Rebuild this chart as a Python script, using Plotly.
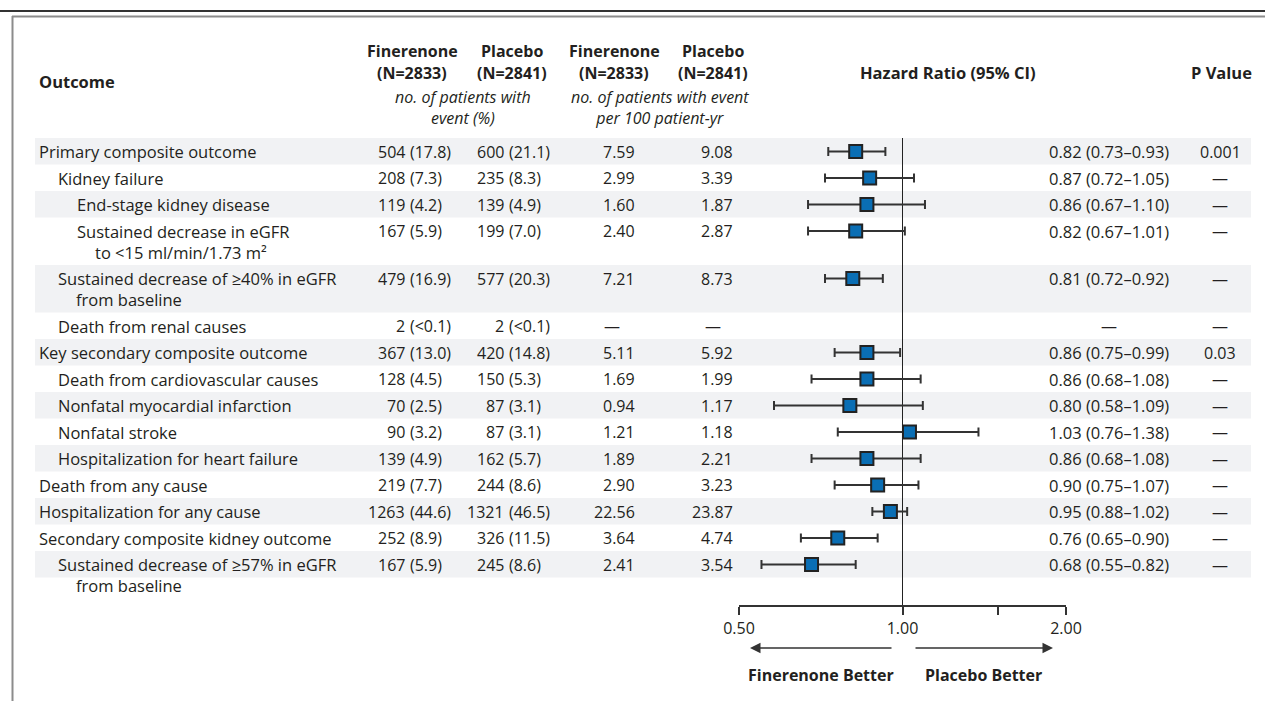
import math
import plotly.graph_objects as go

# ---------------- data ----------------
outcomes = [
    "Primary composite outcome",
    "Kidney failure",
    "End-stage kidney disease",
    "Sustained decrease in eGFR\nto &lt;15 ml/min/1.73 m²",
    "Sustained decrease of ≥40% in eGFR\nfrom baseline",
    "Death from renal causes",
    "Key secondary composite outcome",
    "Death from cardiovascular causes",
    "Nonfatal myocardial infarction",
    "Nonfatal stroke",
    "Hospitalization for heart failure",
    "Death from any cause",
    "Hospitalization for any cause",
    "Secondary composite kidney outcome",
    "Sustained decrease of ≥57% in eGFR\nfrom baseline",
]
levels = [0, 1, 2, 2, 1, 1, 0, 1, 1, 1, 1, 0, 0, 0, 1]
fin_n = [504, 208, 119, 167, 479, 2, 367, 128, 70, 90, 139, 219, 1263, 252, 167]
fin_pct = ["17.8", "7.3", "4.2", "5.9", "16.9", "&lt;0.1", "13.0", "4.5", "2.5", "3.2",
           "4.9", "7.7", "44.6", "8.9", "5.9"]
pla_n = [600, 235, 139, 199, 577, 2, 420, 150, 87, 87, 162, 244, 1321, 326, 245]
pla_pct = ["21.1", "8.3", "4.9", "7.0", "20.3", "&lt;0.1", "14.8", "5.3", "3.1", "3.1",
           "5.7", "8.6", "46.5", "11.5", "8.6"]
fin_rate = ["7.59", "2.99", "1.60", "2.40", "7.21", None, "5.11", "1.69", "0.94", "1.21",
            "1.89", "2.90", "22.56", "3.64", "2.41"]
pla_rate = ["9.08", "3.39", "1.87", "2.87", "8.73", None, "5.92", "1.99", "1.17", "1.18",
            "2.21", "3.23", "23.87", "4.74", "3.54"]
hr = [0.82, 0.87, 0.86, 0.82, 0.81, None, 0.86, 0.86, 0.80, 1.03, 0.86, 0.90, 0.95, 0.76, 0.68]
hr_lo = [0.73, 0.72, 0.67, 0.67, 0.72, None, 0.75, 0.68, 0.58, 0.76, 0.68, 0.75, 0.88, 0.65, 0.55]
hr_hi = [0.93, 1.05, 1.10, 1.01, 0.92, None, 0.99, 1.08, 1.09, 1.38, 1.08, 1.07, 1.02, 0.90, 0.82]
p_values = ["0.001", None, None, None, None, None, "0.03", None, None, None, None, None,
            None, None, None]
tick_vals = [0.5, 1.0, 1.5, 2.0]
tick_text = ["0.50", "1.00", "", "2.00"]

# ---------------- layout constants ----------------
W, H = 1265, 701
FONT = "Open Sans"
TXT = "#231f20"
SHADE = "#f1f2f4"
ROW_TOP = 138
LINE1 = 26.5
LINE_EXTRA = 21
band_lines = [1, 1, 1, 2, 2, 1, 1, 1, 1, 1, 1, 1, 1, 1, 1]
AXIS_Y = 606
X_LABEL = 39
INDENT = 19
CONT_INDENT = 18
X_FN_R, X_FN_P = 405, 410
X_PN_R, X_PN_P = 504, 509
X_FR_R, X_FR_C = 635, 612
X_PR_R, X_PR_C = 733, 713
X_HR = 1109
X_P = 1220
FS = 16
FS_LABEL = 16.5
FS_HR = 16.5

tops, heights = [], []
yy = ROW_TOP
for n in band_lines:
    h = LINE1 + LINE_EXTRA * (n - 1)
    tops.append(yy)
    heights.append(h)
    yy += h
y_first = [t + 13.5 for t in tops]

annotations = []
shapes = []


def txt(x, y, s, anchor="center", size=FS, color=TXT):
    annotations.append(dict(x=x, y=y, xref="x", yref="y", text=s, showarrow=False,
                            xanchor=anchor, yanchor="middle", borderpad=0, borderwidth=0,
                            font=dict(family=FONT, size=size, color=color)))


# shading bands
for i, (t, h) in enumerate(zip(tops, heights)):
    if i % 2 == 0:
        shapes.append(dict(type="rect", xref="x", yref="y", x0=35, x1=1251, y0=t, y1=t + h,
                           fillcolor=SHADE, line=dict(width=0), layer="below"))

# frame lines
shapes.append(dict(type="line", xref="x", yref="y", x0=0, x1=W, y0=11, y1=11,
                   line=dict(color="#333", width=2)))
shapes.append(dict(type="line", xref="x", yref="y", x0=12, x1=W, y0=16.5, y1=16.5,
                   line=dict(color="#8c8c8c", width=2)))
shapes.append(dict(type="line", xref="x", yref="y", x0=12.5, x1=12.5, y0=16, y1=H,
                   line=dict(color="#8c8c8c", width=2)))

# headers
txt(X_LABEL, 81, "<b>Outcome</b>", "left", size=16.5)
for xc, a, b in [(412, "Finerenone", "(N=2833)"), (512, "Placebo", "(N=2841)"),
                 (614, "Finerenone", "(N=2833)"), (713, "Placebo", "(N=2841)")]:
    txt(xc, 51, "<b>%s</b>" % a)
    txt(xc, 73, "<b>%s</b>" % b)
txt(463, 107.5, "<i>no. of patients with<br>event (%)</i>", size=16)
txt(660, 107.5, "<i>no. of patients with event<br>per 100 patient-yr</i>", size=16)
txt(948, 72, "<b>Hazard Ratio (95% CI)</b>", size=16.5)
txt(1221, 72, "<b>P Value</b>", size=16.5)

# rows
for i in range(len(outcomes)):
    y = y_first[i]
    x0 = X_LABEL + INDENT * levels[i]
    for k, line in enumerate(outcomes[i].split("\n")):
        txt(x0 + (CONT_INDENT if k else 0), y + LINE_EXTRA * k, line, "left", size=FS_LABEL)
    txt(X_FN_R, y, str(fin_n[i]), "right")
    txt(X_FN_P, y, "(%s)" % fin_pct[i], "left")
    txt(X_PN_R, y, str(pla_n[i]), "right")
    txt(X_PN_P, y, "(%s)" % pla_pct[i], "left")
    if fin_rate[i] is None:
        txt(X_FR_C, y, "—")
    else:
        txt(X_FR_R, y, fin_rate[i], "right")
    if pla_rate[i] is None:
        txt(X_PR_C, y, "—")
    else:
        txt(X_PR_R, y, pla_rate[i], "right")
    if hr[i] is None:
        txt(X_HR, y, "—")
    else:
        txt(X_HR, y, "%.2f (%.2f–%.2f)" % (hr[i], hr_lo[i], hr_hi[i]), size=FS_HR)
    txt(X_P, y, p_values[i] if p_values[i] else "—")

# arrows and direction labels
for head, tail in [(750, 893), (1053, 914)]:
    annotations.append(dict(x=head, y=648, ax=tail, ay=648, xref="x", yref="y",
                            axref="x", ayref="y", text="", showarrow=True, arrowhead=2,
                            arrowsize=1.4, arrowwidth=1.5, arrowcolor="#333"))
txt(821, 675, "<b>Finerenone Better</b>")
txt(983, 675, "<b>Placebo Better</b>")

# ---------------- traces ----------------
fig = go.Figure()
fig.add_trace(go.Scatter(x=[None], y=[None], xaxis="x", yaxis="y", showlegend=False,
                         hoverinfo="skip"))
fig.add_trace(go.Scatter(x=[1, 1], y=[ROW_TOP, AXIS_Y], mode="lines", xaxis="x2", yaxis="y",
                         line=dict(color="#222", width=1), showlegend=False, hoverinfo="skip"))
idx = [i for i in range(len(hr)) if hr[i] is not None]
fig.add_trace(go.Scatter(
    x=[hr[i] for i in idx], y=[y_first[i] for i in idx], mode="markers",
    xaxis="x2", yaxis="y", showlegend=False,
    marker=dict(symbol="square", size=13, color="#0a6eb4", line=dict(color="#222", width=2)),
    error_x=dict(type="data", symmetric=False,
                 array=[hr_hi[i] - hr[i] for i in idx],
                 arrayminus=[hr[i] - hr_lo[i] for i in idx],
                 thickness=2, width=4.5, color="#333"),
))

fig.update_layout(
    width=W, height=H, autosize=False,
    margin=dict(l=0, r=0, t=0, b=0, pad=0, autoexpand=False),
    paper_bgcolor="white", plot_bgcolor="rgba(0,0,0,0)",
    xaxis=dict(domain=[0, 1], range=[0, W], visible=False, anchor="y", automargin=False),
    xaxis2=dict(type="log", domain=[739 / W, 1066 / W],
                range=[math.log10(0.5), math.log10(2.0)], anchor="free",
                position=1 - AXIS_Y / H, showline=True, linecolor="#333", linewidth=1.5,
                ticks="outside", ticklen=8, tickwidth=1.5, tickcolor="#333",
                tickvals=tick_vals, ticktext=tick_text, showgrid=False, zeroline=False,
                automargin=False,
                tickfont=dict(family=FONT, size=16, color=TXT)),
    yaxis=dict(domain=[0, 1], range=[H, 0], visible=False, automargin=False),
    annotations=annotations, shapes=shapes, showlegend=False,
)
fig.write_html("out.html", config={"responsive": False, "displayModeBar": False},
               post_script="document.body.style.margin='0px';document.body.style.overflow='hidden';")
